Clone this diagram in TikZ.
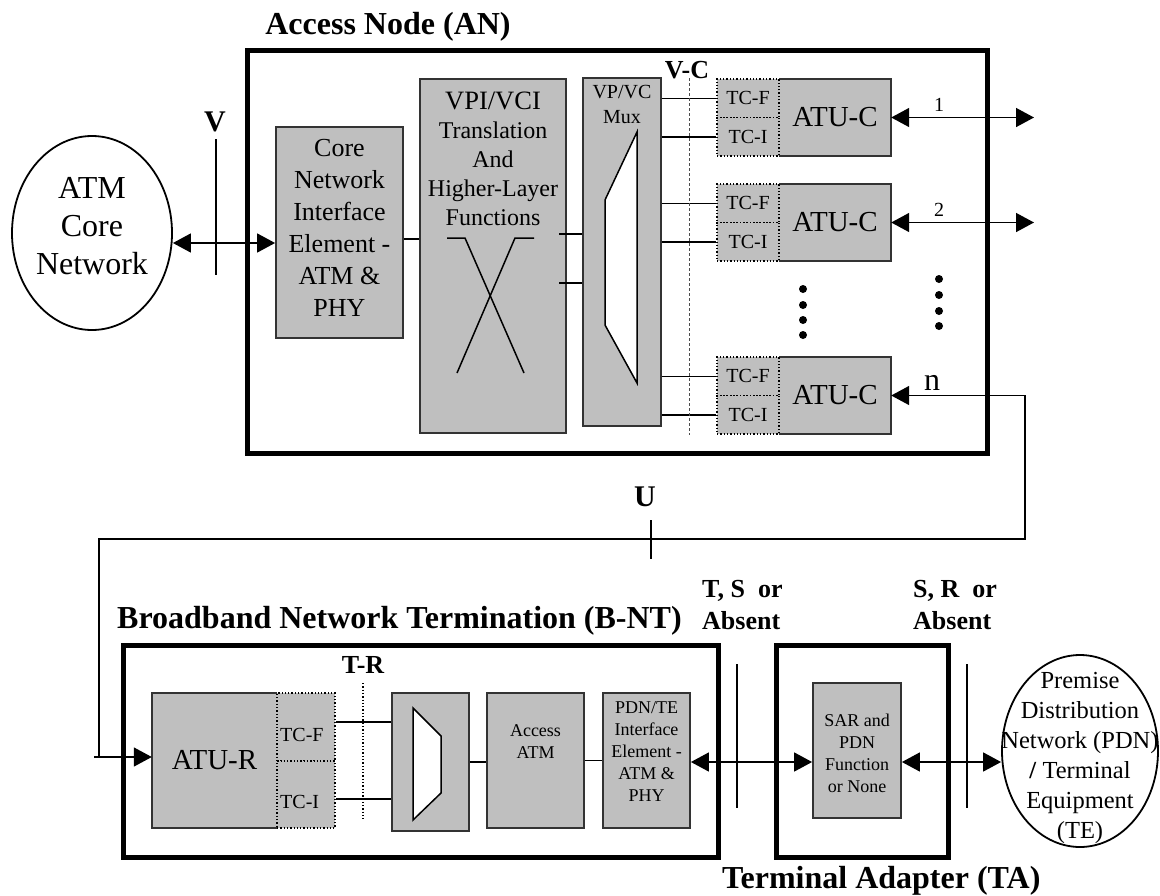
\documentclass[tikz,border=0pt]{standalone}
\usepackage{fontspec}
\setmainfont{Liberation Serif}
\usetikzlibrary{shapes.geometric}
\usetikzlibrary{arrows.meta}
\tikzstyle{frame}=[draw, line width=5pt, inner sep=0pt]
\tikzstyle{block}=[draw=black!80, fill=black!25, line width=1.8pt, inner sep=0pt]
\tikzstyle{plainblock}=[fill=black!25, inner sep=0pt]
\tikzstyle{edge}=[draw=black!80, line width=1.8pt]
\tikzstyle{tcell}=[draw, dotted, fill=black!25, line width=1.3pt, inner sep=0pt]
\tikzstyle{cloud}=[draw, ellipse, line width=1.8pt, inner sep=0pt]
\tikzstyle{wire}=[line width=1.5pt]
\tikzstyle{link}=[wire, {Triangle[length=18pt,width=19pt]}-{Triangle[length=18pt,width=19pt]}]
\tikzstyle{title}=[font=\fontsize{32}{38}\selectfont\bfseries, inner sep=0pt]
\tikzstyle{refpt}=[font=\fontsize{26}{32}\selectfont\bfseries, inner sep=0pt, align=left]
\tikzstyle{letter}=[font=\fontsize{30}{36}\selectfont\bfseries, inner sep=0pt]
\tikzstyle{small}=[font=\fontsize{20}{25}\selectfont, inner sep=0pt, align=center]
\tikzstyle{tiny}=[font=\fontsize{18}{22}\selectfont, inner sep=0pt, align=center]
\tikzstyle{tcset}=[tcell, minimum width=62pt, minimum height=38.5pt, font=\fontsize{20}{25}\selectfont]
\tikzstyle{atuc}=[plainblock, minimum width=112pt, minimum height=77pt, font=\fontsize{29}{34}\selectfont]

\begin{document}
\begin{tikzpicture}[x=1pt, y=-1pt]
        \useasboundingbox (0,0) rectangle (1160,895);
        % access node
        \node[title]                                              (ANt) at (388, 27) {Access Node (AN)};
        \node[frame, minimum width=740pt, minimum height=403pt]   (AN) at (617, 251.5) {};
        \node[cloud, minimum width=160pt, minimum height=194pt]   (ATM) at (92, 233) {};
        \node[font=\fontsize{32}{38}\selectfont, align=center, inner sep=0pt] (ATMt) at (92, 226) {ATM\\Core\\Network};
        \node[letter]                                             (V) at (215, 122) {V};
        \node[block, minimum width=127pt, minimum height=211pt]   (Core) at (339.5, 232.5) {};
        \node[font=\fontsize{26}{32}\selectfont, align=center, inner sep=0pt] (Coret) at (339.5, 227.5) {Core\\Network\\Interface\\Element -\\ATM \&\\PHY};
        \node[block, minimum width=146pt, minimum height=354pt]   (VPI) at (493, 256) {};
        \node[font=\fontsize{24}{29}\selectfont, align=center, inner sep=0pt] (VPIt) at (493, 158.5) {{\fontsize{26.5}{31}\selectfont VPI/VCI}\\Translation\\And\\Higher-Layer\\Functions};
        \node[block, minimum width=78pt, minimum height=348pt]    (Mux) at (622, 252) {};
        \node[small]                                              (Muxt) at (622, 104.5) {VP/VC\\Mux};
        \node[refpt]                                              (VC) at (687, 70) {V-C};
        \node[atuc]  (C1) at (835, 117.5) {ATU-C};
        \node[atuc]  (C2) at (835, 222.5) {ATU-C};
        \node[atuc]  (C3) at (835, 395.5) {ATU-C};
        \draw[edge] (C1.north west) -- (C1.north east) -- (C1.south east) -- (C1.south west);
        \draw[edge] (C2.north west) -- (C2.north east) -- (C2.south east) -- (C2.south west);
        \draw[edge] (C3.north west) -- (C3.north east) -- (C3.south east) -- (C3.south west);
        \node[tcset] (F1) at (748, 98.25) {TC-F};
        \node[tcset] (I1) at (748, 136.75) {TC-I};
        \node[tcset] (F2) at (748, 203.25) {TC-F};
        \node[tcset] (I2) at (748, 241.75) {TC-I};
        \node[tcset] (F3) at (748, 376.25) {TC-F};
        \node[tcset] (I3) at (748, 414.75) {TC-I};
        \node[small] (n1) at (939, 105) {1};
        \node[small] (n2) at (939, 210) {2};
        \node[font=\fontsize{32}{38}\selectfont, inner sep=0pt] (nn) at (932, 383) {n};
        \coordinate (Vlev) at (216, 243);
        \coordinate (vm1) at (559, 234);
        \coordinate (vm2) at (559, 283);
        \coordinate (out1) at (1034, 117.5);
        \coordinate (out2) at (1034, 222.5);
        \draw[wire] (216, 139) -- (216, 275);
        \draw[link] (ATM.east |- Vlev) -- (Core.west |- Vlev);
        \draw[wire] (Core.east |- 0,239) -- (VPI.west |- 0,239);
        \draw[wire] (447, 238) -- (465, 238) -- (524, 373);
        \draw[wire] (534, 238) -- (515, 238) -- (457, 373);
        \draw[wire] (vm1) -- (Mux.west |- vm1);
        \draw[wire] (vm2) -- (Mux.west |- vm2);
        \draw[wire, fill=white] (637, 132) -- (605, 200) -- (605, 325) -- (637, 383) -- cycle;
        \draw[wire] (Mux.east |- F1.west) -- (F1.west);
        \draw[wire] (Mux.east |- I1.west) -- (I1.west);
        \draw[wire] (Mux.east |- F2.west) -- (F2.west);
        \draw[wire] (Mux.east |- I2.west) -- (I2.west);
        \draw[wire] (Mux.east |- F3.west) -- (F3.west);
        \draw[wire] (Mux.east |- I3.west) -- (I3.west);
        \draw[line width=1pt, densely dashed, black!70] (689, 78) -- (689, 435);
        \draw[link] (C1.east) -- (out1);
        \draw[link] (C2.east) -- (out2);
        \fill (803, 289) circle (4pt);
        \fill (803, 305) circle (4pt);
        \fill (803, 320) circle (4pt);
        \fill (803, 335) circle (4pt);
        \fill (939, 279) circle (4pt);
        \fill (939, 295) circle (4pt);
        \fill (939, 311) circle (4pt);
        \fill (939, 326) circle (4pt);
        % broadband network termination
        \node[letter]                                             (U) at (645, 497) {U};
        \node[title, anchor=west]                                 (BNTt) at (117, 621) {Broadband Network Termination (B-NT)};
        \node[frame, minimum width=595pt, minimum height=212pt]   (BNT) at (420.5, 751) {};
        \node[refpt]                                              (TR) at (363, 665) {T-R};
        \node[plainblock, font=\fontsize{29}{34}\selectfont, minimum width=125pt, minimum height=135pt] (R) at (214.5, 760.5) {ATU-R};
        \draw[edge] (R.north east) -- (R.north west) -- (R.south west) -- (R.south east);
        \node[tcell, minimum width=58pt, minimum height=68pt]     (RF) at (306, 727) {};
        \node[tcell, minimum width=58pt, minimum height=67pt]     (RI) at (306, 794.5) {};
        \node[small, anchor=west]                                 (RFt) at (280, 735) {TC-F};
        \node[small, anchor=west]                                 (RIt) at (280, 802) {TC-I};
        \node[block, minimum width=77pt, minimum height=138pt]    (M2) at (430.5, 762) {};
        \node[block, minimum width=97pt, minimum height=135pt]    (AA) at (535.5, 760.5) {};
        \node[tiny]                                               (AAt) at (535.5, 741.5) {Access\\ATM};
        \node[block, minimum width=87pt, minimum height=135pt]    (PT) at (646.5, 760.5) {};
        \node[tiny]                                               (PTt) at (646.5, 751.5) {PDN/TE\\Interface\\Element -\\ATM \&\\PHY};
        \node[refpt, anchor=west]                                 (TS) at (702, 605) {T, S~ or\\Absent};
        % terminal adapter
        \node[frame, minimum width=172pt, minimum height=212pt]   (TA) at (862, 751) {};
        \node[block, minimum width=88pt, minimum height=135pt]    (SAR) at (857, 750.5) {};
        \node[tiny]                                               (SARt) at (857, 753) {SAR and\\PDN\\Function\\or None};
        \node[title, anchor=west]                                 (TAt) at (722, 881) {Terminal Adapter (TA)};
        \node[refpt, anchor=west]                                 (SR) at (913, 605) {S, R~ or\\Absent};
        \node[cloud, minimum width=156pt, minimum height=192pt]   (TE) at (1080, 751) {};
        \node[font=\fontsize{24.5}{30}\selectfont, align=center, inner sep=0pt] (TEt) at (1080, 758) {Premise\\Distribution\\Network (PDN)\\\textbf{/} Terminal\\Equipment\\(TE)};
        \coordinate (k1) at (1025, 395.5);
        \coordinate (k2) at (1025, 539);
        \coordinate (k3) at (99, 539);
        \coordinate (k4) at (99, 757);
        \coordinate (k5) at (94, 757);
        \coordinate (tlev) at (737, 762);
        \draw[link] (C3.east) -- (k1) -- (k2) -- (k3) -- (k4) -- (R.west |- k4);
        \draw[wire] (k5) -- (k4);
        \draw[wire] (651, 520) -- (651, 559);
        \draw[line width=1.3pt, dotted] (363, 683) -- (363, 819);
        \draw[wire, fill=white] (413, 708) -- (441, 736) -- (441, 793) -- (413, 820) -- cycle;
        \draw[wire] (RF.east |- 0,722) -- (M2.west |- 0,722);
        \draw[wire] (RI.east |- 0,799) -- (M2.west |- 0,799);
        \draw[wire] (M2.east) -- (AA.west |- M2.east);
        \draw[wire] (AA.east) -- (PT.west |- AA.east);
        \draw[wire] (737, 664) -- (737, 808);
        \draw[wire] (967, 664) -- (967, 808);
        \draw[link] (PT.east |- tlev) -- (SAR.west |- tlev);
        \draw[link] (SAR.east |- tlev) -- (TE.west |- tlev);
    \end{tikzpicture}
\end{document}
